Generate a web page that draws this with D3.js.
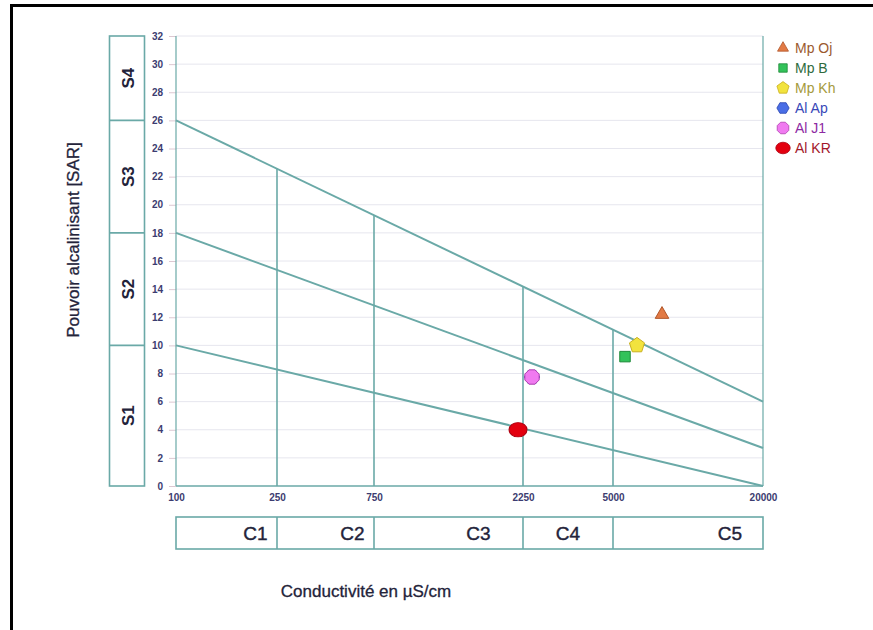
<!DOCTYPE html>
<html><head><meta charset="utf-8">
<script src="https://cdn.jsdelivr.net/npm/d3@7"></script>
<style>
html,body{margin:0;padding:0;background:#fff;}
svg{display:block;font-family:"Liberation Sans",Arial,sans-serif;}
</style></head>
<body>
<svg id="chart" width="873" height="630"></svg>
<script>
// ---- data ----
const xTicks = [100, 250, 750, 2250, 5000, 20000];
const xTickLabels = ["100", "250", "750", "2250", "5000", "20000"];
const yTicks = [0, 2, 4, 6, 8, 10, 12, 14, 16, 18, 20, 22, 24, 26, 28, 30, 32];
const cClasses = ["C1", "C2", "C3", "C4", "C5"];
const sClasses = ["S1", "S2", "S3", "S4"];
const sBounds = [0, 10, 18, 26, 32];
const sarLineStart = [26, 18, 10];   // SAR at 100 µS/cm
const sarLineEnd = [6, 2.7, 0];      // SAR at 20000 µS/cm
const seriesNames = ["Mp Oj", "Mp B", "Mp Kh", "Al Ap", "Al J1", "Al KR"];
const seriesCE = [9900, 6200, 7400, 2525, 2525, 2200];
const seriesSAR = [12.2, 9.2, 10.0, 7.75, 7.75, 4.0];

// ---- layout / style ----
const teal = "#6aa9a7";
const fills = ["#e27a45", "#33c25a", "#f2e33e", "#4a6ee6", "#f07af0", "#e3000f"];
const strokes = ["#b0562a", "#1f8a3a", "#c9b020", "#2a45b0", "#b040b0", "#b00010"];
const textCols = ["#9b5a2e", "#2f6b3d", "#a59a3c", "#3848b8", "#8d2aa3", "#a3172a"];
const ink = "#23233a";

const svg = d3.select("#chart");
// frame
svg.append("line").attr("x1", 11).attr("y1", 5.5).attr("x2", 873).attr("y2", 5.5).attr("stroke", "#000").attr("stroke-width", 3);
svg.append("line").attr("x1", 11.5).attr("y1", 4).attr("x2", 11.5).attr("y2", 630).attr("stroke", "#000").attr("stroke-width", 3);

const x = d3.scaleLinear().domain(xTicks).range([176, 277, 374, 523, 613, 763]);
const y = d3.scaleLinear().domain([0, 32]).range([486, 36]);

// gridlines
svg.append("g").selectAll("line").data(yTicks.filter(d => d > 0)).join("line")
  .attr("x1", x(100)).attr("x2", x(20000)).attr("y1", d => y(d)).attr("y2", d => y(d))
  .attr("stroke", "#e6e6ee").attr("stroke-width", 1);

// y axis
const yAxis = d3.axisLeft(y).tickValues(yTicks).tickSize(7).tickPadding(6);
const gy = svg.append("g").attr("transform", `translate(${x(100)},0)`).call(yAxis);
gy.select(".domain").remove();
gy.selectAll(".tick line").attr("stroke", "#dcc8d2");
gy.selectAll(".tick text").attr("font-size", 10).attr("font-weight", "bold").attr("fill", "#3c3c70");

// x axis
const xAxis = d3.axisBottom(x).tickValues(xTicks).tickFormat((d, i) => xTickLabels[i]).tickSize(0).tickPadding(8);
const gx = svg.append("g").attr("transform", `translate(0,${y(0)})`).call(xAxis);
gx.select(".domain").remove();
gx.selectAll(".tick text").attr("font-size", 10).attr("font-weight", "bold").attr("fill", "#3c3c70");

// plot frame lines
const plot = svg.append("g").attr("stroke", teal).attr("fill", "none");
plot.append("line").attr("x1", x(100)).attr("x2", x(100)).attr("y1", y(0)).attr("y2", y(32)).attr("stroke-width", 1.2);
plot.append("line").attr("x1", x(20000)).attr("x2", x(20000)).attr("y1", y(0)).attr("y2", y(32)).attr("stroke-width", 1.2);
plot.append("line").attr("x1", x(100)).attr("x2", x(20000)).attr("y1", y(0)).attr("y2", y(0)).attr("stroke-width", 1.5);

// SAR lines (straight on the chart)
sarLineStart.forEach((s, i) => {
  plot.append("line").attr("x1", x(100)).attr("y1", y(s)).attr("x2", x(20000)).attr("y2", y(sarLineEnd[i]))
    .attr("stroke-width", 2);
});
// verticals up to top SAR line
function topAt(px) {
  const t = (px - x(100)) / (x(20000) - x(100));
  return y(sarLineStart[0]) + t * (y(sarLineEnd[0]) - y(sarLineStart[0]));
}
xTicks.slice(1, -1).forEach(v => {
  plot.append("line").attr("x1", x(v)).attr("x2", x(v)).attr("y1", y(0)).attr("y2", topAt(x(v)))
    .attr("stroke-width", 1.6);
});

// S boxes on left
const sg = svg.append("g");
sg.append("rect").attr("x", 109.5).attr("y", y(32)).attr("width", 35).attr("height", y(0) - y(32))
  .attr("fill", "none").attr("stroke", teal).attr("stroke-width", 1.6);
sBounds.slice(1, -1).forEach(b => {
  sg.append("line").attr("x1", 109.5).attr("x2", 144.5).attr("y1", y(b)).attr("y2", y(b)).attr("stroke", teal).attr("stroke-width", 1.6);
});
sClasses.forEach((s, i) => {
  const cy = (y(sBounds[i]) + y(sBounds[i + 1])) / 2;
  sg.append("text").attr("transform", `translate(134,${cy}) rotate(-90)`).attr("text-anchor", "middle")
    .attr("font-size", 17).attr("font-weight", "bold").attr("fill", ink).text(s);
});

// C boxes at bottom
const cg = svg.append("g");
const cTop = 517, cBot = 549;
cg.append("rect").attr("x", x(100)).attr("y", cTop).attr("width", x(20000) - x(100)).attr("height", cBot - cTop)
  .attr("fill", "none").attr("stroke", teal).attr("stroke-width", 1.6);
xTicks.slice(1, -1).forEach(v => {
  cg.append("line").attr("x1", x(v)).attr("x2", x(v)).attr("y1", cTop).attr("y2", cBot).attr("stroke", teal).attr("stroke-width", 1.6);
});
const cOffsets = [29, 27, 30, 0, 42];
cClasses.forEach((c, i) => {
  const cx = (x(xTicks[i]) + x(xTicks[i + 1])) / 2 + cOffsets[i];
  cg.append("text").attr("x", cx).attr("y", 540).attr("text-anchor", "middle")
    .attr("font-size", 19).attr("fill", ink).attr("stroke", ink).attr("stroke-width", 0.4).text(c);
});

// axis titles
svg.append("text").attr("transform", `translate(79,240) rotate(-90)`).attr("text-anchor", "middle")
  .attr("font-size", 17).attr("fill", ink).attr("stroke", ink).attr("stroke-width", 0.3).text("Pouvoir alcalinisant [SAR]");
svg.append("text").attr("x", 366).attr("y", 597).attr("text-anchor", "middle")
  .attr("font-size", 17).attr("fill", ink).attr("stroke", ink).attr("stroke-width", 0.3).text("Conductivité en µS/cm");

// symbols
function polygonType(n, rot) {
  return { draw(ctx, size) {
    const r = Math.sqrt(size / (n / 2 * Math.sin(2 * Math.PI / n)));
    for (let k = 0; k < n; k++) {
      const a = rot + 2 * Math.PI * k / n;
      const px = r * Math.sin(a), py = -r * Math.cos(a);
      if (k === 0) ctx.moveTo(px, py); else ctx.lineTo(px, py);
    }
    ctx.closePath();
  } };
}
const symTypes = [d3.symbolTriangle, d3.symbolSquare, polygonType(5, 0), polygonType(6, Math.PI / 6), polygonType(8, Math.PI / 8), d3.symbolCircle];
const symSizes = [80, 110, 150, 150, 170, 190];

const pts = svg.append("g");
[3, 0, 1, 2, 4, 5].forEach(i => {
  pts.append("path").attr("d", d3.symbol().type(symTypes[i]).size(symSizes[i])())
    .attr("transform", `translate(${x(seriesCE[i])},${y(seriesSAR[i])})` + (i === 5 ? " scale(1.15,0.92)" : ""))
    .attr("fill", fills[i]).attr("stroke", strokes[i]).attr("stroke-width", 1);
});

// legend
const lg = svg.append("g");
seriesNames.forEach((n, i) => {
  const ly = 48 + i * 20;
  lg.append("path").attr("d", d3.symbol().type(symTypes[i]).size(symSizes[i] * 0.65)())
    .attr("transform", `translate(783,${ly})` + (i === 5 ? " scale(1.15,0.92)" : "")).attr("fill", fills[i]).attr("stroke", strokes[i]).attr("stroke-width", 0.8);
  lg.append("text").attr("x", 795).attr("y", ly + 5).attr("font-size", 14).attr("fill", textCols[i]).text(n);
});
</script>
</body></html>
